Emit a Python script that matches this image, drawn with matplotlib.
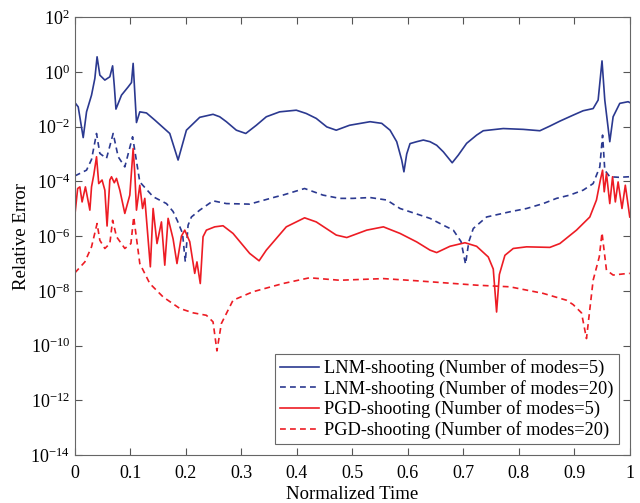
import numpy as np
import matplotlib
matplotlib.use("Agg")
import matplotlib.pyplot as plt

plt.rcParams['font.family'] = ['Liberation Serif', 'DejaVu Serif']

# values as (time, log10 of relative error)
lnm5_t = [0.0, 0.006, 0.015, 0.021, 0.030, 0.036, 0.040, 0.045, 0.054, 0.063, 0.068, 0.071,
          0.074, 0.084, 0.096, 0.102, 0.105, 0.111, 0.117, 0.129, 0.144, 0.171, 0.186, 0.201,
          0.225, 0.249, 0.261, 0.273, 0.291, 0.308, 0.327, 0.345, 0.369, 0.399, 0.417, 0.435,
          0.454, 0.471, 0.495, 0.532, 0.553, 0.568, 0.580, 0.589, 0.593, 0.598, 0.604, 0.616,
          0.628, 0.640, 0.652, 0.664, 0.680, 0.691, 0.706, 0.724, 0.736, 0.772, 0.808, 0.838,
          0.856, 0.874, 0.898, 0.916, 0.934, 0.943, 0.950, 0.955, 0.964, 0.970, 0.982, 0.997, 1.0]
lnm5_log = [-1.12, -1.28, -2.40, -1.46, -0.85, -0.24, 0.55, -0.12, -0.30, -0.18, 0.22, -0.50,
            -1.36, -0.85, -0.55, -0.39, 0.31, -1.85, -1.46, -1.50, -1.76, -2.25, -3.22, -2.13,
            -1.66, -1.55, -1.64, -1.82, -2.13, -2.25, -1.95, -1.64, -1.46, -1.40, -1.52, -1.70,
            -2.01, -2.13, -1.95, -1.82, -1.88, -2.13, -2.55, -3.22, -3.65, -3.00, -2.62, -2.55,
            -2.49, -2.55, -2.68, -2.92, -3.32, -3.04, -2.61, -2.31, -2.15, -2.07, -2.10, -2.15,
            -1.98, -1.80, -1.58, -1.42, -1.34, -1.03, 0.40, -1.03, -2.55, -1.64, -1.15, -1.09, -1.12]

lnm20_t = [0.0, 0.021, 0.030, 0.039, 0.045, 0.057, 0.069, 0.078, 0.090, 0.104, 0.117, 0.141,
           0.165, 0.177, 0.185, 0.194, 0.199, 0.204, 0.210, 0.225, 0.249, 0.273, 0.315, 0.363,
           0.375, 0.414, 0.447, 0.477, 0.501, 0.532, 0.562, 0.586, 0.640, 0.664, 0.682, 0.696,
           0.704, 0.710, 0.718, 0.742, 0.784, 0.814, 0.844, 0.868, 0.892, 0.916, 0.934, 0.946,
           0.951, 0.955, 0.964, 0.980, 1.0]
lnm20_log = [-3.80, -3.59, -3.20, -2.25, -2.98, -3.16, -2.25, -3.10, -3.47, -2.37, -4.02, -4.56,
             -4.81, -5.10, -5.45, -5.90, -6.94, -5.60, -5.30, -5.05, -4.71, -4.81, -4.83, -4.56,
             -4.50, -4.26, -4.50, -4.62, -4.62, -4.59, -4.68, -4.99, -5.35, -5.60, -5.78, -6.20,
             -7.02, -6.20, -5.72, -5.30, -5.11, -4.99, -4.81, -4.62, -4.50, -4.32, -4.08, -3.47,
             -2.31, -3.59, -3.83, -3.85, -3.83]

pgd5_t = [0.0, 0.005, 0.009, 0.013, 0.019, 0.027, 0.030, 0.034, 0.039, 0.043, 0.049, 0.054,
          0.058, 0.063, 0.066, 0.071, 0.075, 0.081, 0.090, 0.099, 0.105, 0.108, 0.111, 0.117,
          0.122, 0.126, 0.136, 0.141, 0.148, 0.156, 0.162, 0.168, 0.177, 0.184, 0.192, 0.198,
          0.207, 0.216, 0.220, 0.226, 0.231, 0.237, 0.252, 0.267, 0.285, 0.315, 0.332, 0.345,
          0.381, 0.414, 0.435, 0.471, 0.490, 0.526, 0.556, 0.586, 0.616, 0.640, 0.652, 0.676,
          0.703, 0.724, 0.745, 0.754, 0.760, 0.765, 0.775, 0.790, 0.814, 0.856, 0.874, 0.904,
          0.928, 0.940, 0.947, 0.951, 0.954, 0.958, 0.964, 0.969, 0.974, 0.979, 0.986, 0.992, 1.0]
pgd5_log = [-5.23, -4.26, -4.20, -4.75, -4.20, -5.05, -4.20, -3.77, -3.10, -4.08, -3.95, -4.32,
            -5.63, -3.95, -3.83, -4.05, -3.89, -4.32, -5.17, -4.50, -2.80, -3.71, -5.05, -4.14,
            -4.99, -4.62, -7.12, -4.99, -6.27, -5.48, -7.06, -5.35, -6.10, -7.00, -6.00, -5.78,
            -6.20, -7.36, -6.94, -7.73, -6.02, -5.78, -5.66, -5.62, -5.90, -6.63, -6.90, -6.51,
            -5.66, -5.33, -5.48, -5.96, -6.05, -5.78, -5.66, -5.90, -6.21, -6.51, -6.60, -6.37,
            -6.24, -6.37, -6.76, -7.20, -8.77, -7.40, -6.70, -6.45, -6.39, -6.41, -6.27, -5.78,
            -5.30, -4.68, -3.95, -3.59, -4.38, -3.71, -4.81, -3.83, -4.75, -4.02, -4.99, -4.14, -5.30]

pgd20_t = [0.0, 0.018, 0.030, 0.040, 0.045, 0.054, 0.063, 0.068, 0.075, 0.090, 0.101, 0.106,
           0.117, 0.135, 0.159, 0.189, 0.213, 0.237, 0.249, 0.256, 0.264, 0.285, 0.321, 0.375,
           0.423, 0.477, 0.556, 0.616, 0.724, 0.784, 0.844, 0.886, 0.898, 0.913, 0.922, 0.934,
           0.945, 0.950, 0.958, 0.970, 0.997, 1.0]
pgd20_log = [-7.34, -6.94, -6.39, -5.54, -6.15, -6.45, -6.27, -5.42, -6.02, -6.45, -6.27, -5.30,
             -7.00, -7.73, -8.22, -8.64, -8.80, -8.89, -9.13, -10.19, -9.19, -8.34, -8.03, -7.73,
             -7.52, -7.61, -7.55, -7.63, -7.79, -7.85, -8.09, -8.34, -8.50, -8.80, -9.74, -7.61,
             -6.76, -5.88, -7.24, -7.42, -7.36, -7.36]

labels = ['LNM-shooting (Number of modes=5)', 'LNM-shooting (Number of modes=20)',
          'PGD-shooting (Number of modes=5)', 'PGD-shooting (Number of modes=20)']
blue = '#2b3990'
red = '#ed1c24'

fig = plt.figure(figsize=(6.4, 5.03), dpi=100)
ax = fig.add_axes([0.117, 0.095, 0.867, 0.871])

dash = (0, (3.5, 2.5))
ax.plot(lnm5_t, 10 ** np.array(lnm5_log), color=blue, lw=1.2, label=labels[0])
ax.plot(lnm20_t, 10 ** np.array(lnm20_log), color=blue, lw=1.2, ls=dash, label=labels[1])
ax.plot(pgd5_t, 10 ** np.array(pgd5_log), color=red, lw=1.2, label=labels[2])
ax.plot(pgd20_t, 10 ** np.array(pgd20_log), color=red, lw=1.2, ls=dash, label=labels[3])

ax.set_yscale('log')
ax.set_xlim(0, 1)
ax.set_ylim(1e-14, 1e2)
ax.set_yticks([10.0 ** k for k in range(-14, 3, 2)])
ax.yaxis.set_minor_locator(matplotlib.ticker.NullLocator())
ax.set_xticks(np.arange(0, 1.01, 0.1))
ax.set_xticklabels(['0', '0.1', '0.2', '0.3', '0.4', '0.5', '0.6', '0.7', '0.8', '0.9', '1'])
ax.tick_params(direction='in', top=True, right=True, labelsize=13, length=5,
               color='#555555', width=0.8)
ax.tick_params(axis='x', pad=7)
for s in ax.spines.values():
    s.set_color('#666666')
    s.set_linewidth(0.8)

ax.set_xlabel('Normalized Time', fontsize=13.5, labelpad=3)
ax.set_ylabel('Relative Error', fontsize=13.5, labelpad=0)

leg = ax.legend(loc='lower right', fontsize=13.2, frameon=True, fancybox=False,
                edgecolor='#444444', labelspacing=0.15, handlelength=2.1,
                borderpad=0.28, handletextpad=0.3, borderaxespad=0.6)
leg.get_frame().set_linewidth(0.8)

fig.savefig('out.png', dpi=100)
